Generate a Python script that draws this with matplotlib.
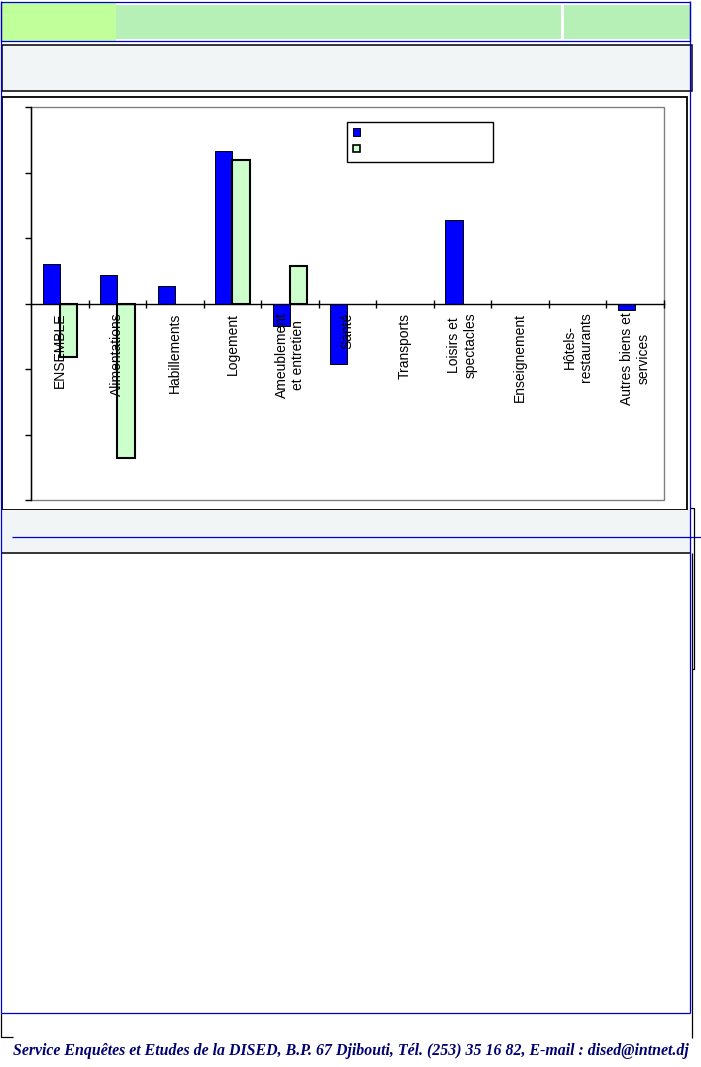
import matplotlib
matplotlib.use('Agg')
import matplotlib.pyplot as plt
import numpy as np
from matplotlib.patches import Rectangle, Patch

categories = ['ENSEMBLE', 'Alimentations', 'Habillements', 'Logement',
              'Ameublement\net entretien', 'Santé', 'Transports',
              'Loisirs et\nspectacles', 'Enseignement', 'Hôtels-\nrestaurants',
              'Autres biens et\nservices']
serie_1 = [0.61, 0.43, 0.26, 2.33, -0.34, -0.92, 0.0, 1.27, 0.0, 0.0, -0.10]
serie_2 = [-0.82, -2.36, 0.0, 2.19, 0.575, 0.0, 0.0, 0.0, 0.0, 0.0, 0.0]
legend_labels = [' ', ' ']
footer = ('Service Enquêtes et Etudes de la DISED, B.P. 67 Djibouti, '
          'Tél. (253) 35 16 82, E-mail : dised@intnet.dj')

W, H = 701, 1067
plt.rcParams['font.family'] = 'Liberation Sans'

fig = plt.figure(figsize=(W / 100, H / 100), dpi=100)

# page decoration drawn in pixel coordinates
bg = fig.add_axes([0, 0, 1, 1])
bg.set_xlim(0, W)
bg.set_ylim(H, 0)
bg.axis('off')


def box(x0, y0, x1, y1, fc='none', ec='none', lw=1.0, z=1):
	bg.add_patch(Rectangle((x0, y0), x1 - x0, y1 - y0, facecolor=fc, edgecolor=ec, linewidth=lw, zorder=z))


def seg(xs, ys, c='black', lw=1.0, z=3):
	bg.plot(xs, ys, color=c, linewidth=lw, zorder=z, solid_capstyle='butt')


blue = '#0000CC'

# header
box(1, 2, 116, 41, fc='#C0FF9A')
box(116, 5, 561, 39, fc='#B6F0B6')
box(564, 5, 690, 39, fc='#B6F0B6')
box(1, 1.5, 690, 41, ec=blue, lw=0.9, z=2)

# title box
box(1.5, 45, 692, 91, fc='#F1F5F6', ec='black', lw=1.1)

# chart box
box(2, 97, 687, 510, fc='white', ec='black', lw=1.3)

# strip below the chart
box(1, 510, 691, 553, fc='#F1F5F6')
seg([1, 691], [553, 553], lw=1.1)
seg([12, W], [537, 537], c=blue, lw=0.9)
seg([690, 693.5, 693.5, 691.5], [508, 508, 669, 669], lw=0.9)

# page frame
seg([1, 1], [1, 1013], c=blue, lw=0.9)
seg([690, 690], [1, 1013], c=blue, lw=0.9)
seg([1, 690], [1013, 1013], c=blue, lw=0.9)
seg([692, 692], [553, 1038], lw=0.9)
seg([1, 1, 13], [1013, 1037, 1037], lw=0.9)

# chart
px0, py0, px1, py1 = 31, 107, 664, 500
ax = fig.add_axes([px0 / W, 1 - py1 / H, (px1 - px0) / W, (py1 - py0) / H])
ax.set_facecolor('white')
ax.patch.set_edgecolor('#808080')
ax.patch.set_linewidth(1.0)
ax.set_axisbelow(False)

x = np.arange(len(categories))
s1 = np.array(serie_1)
s2 = np.array(serie_2)
m1 = s1 != 0
m2 = s2 != 0
ax.bar(x[m1] - 0.15, s1[m1], 0.3, color='#0000FF', edgecolor='black', linewidth=0.7, zorder=2)
ax.bar(x[m2] + 0.15, s2[m2], 0.3, color='#CCFFCC', edgecolor='black', linewidth=1.5, zorder=2)

ax.set_xlim(-0.5, len(categories) - 0.5)
ax.set_ylim(-3, 3)

for side in ['top', 'right']:
	ax.spines[side].set_visible(False)
ax.spines['left'].set_linewidth(1.0)
ax.spines['bottom'].set_position(('data', 0))
ax.spines['bottom'].set_linewidth(1.0)
ax.spines['bottom'].set_zorder(3)

ax.set_yticks(np.arange(-3, 4))
ax.tick_params(axis='y', direction='out', length=4, width=1, labelleft=False)

ax.set_xticks(np.arange(0.5, len(categories)), [])
ax.tick_params(axis='x', which='major', direction='inout', length=6, width=1)
ax.set_xticks(x, categories, minor=True)
ax.tick_params(axis='x', which='minor', length=0, pad=6.5, labelsize=10, labelrotation=90)
for lab in ax.get_xticklabels(minor=True):
	lab.set_multialignment('center')

handles = [Patch(facecolor='#0000FF', edgecolor='black', linewidth=0.7),
           Patch(facecolor='#CCFFCC', edgecolor='black', linewidth=1.2)]
leg = ax.legend(handles, legend_labels, loc='upper left',
                bbox_to_anchor=(347 / W, 1 - 160 / H, (493 - 347) / W, (160 - 122) / H),
                bbox_transform=fig.transFigure, mode='expand', fancybox=False,
                edgecolor='black', framealpha=1, fontsize=9, handlelength=0.55,
                handleheight=0.55, handletextpad=0.5, borderpad=0.45,
                labelspacing=0.35, borderaxespad=0)
leg.get_frame().set_linewidth(1.0)
leg.set_zorder(5)

# footer
t = fig.text(13 / W, 1 - 1051 / H, footer, fontsize=20, family='Liberation Serif',
             weight='bold', style='italic', color='#000070', ha='left', va='center')
fig.canvas.draw()
tw = t.get_window_extent().width
t.set_fontsize(20 * 677 / tw)

plt.savefig('out.png', dpi=100)
